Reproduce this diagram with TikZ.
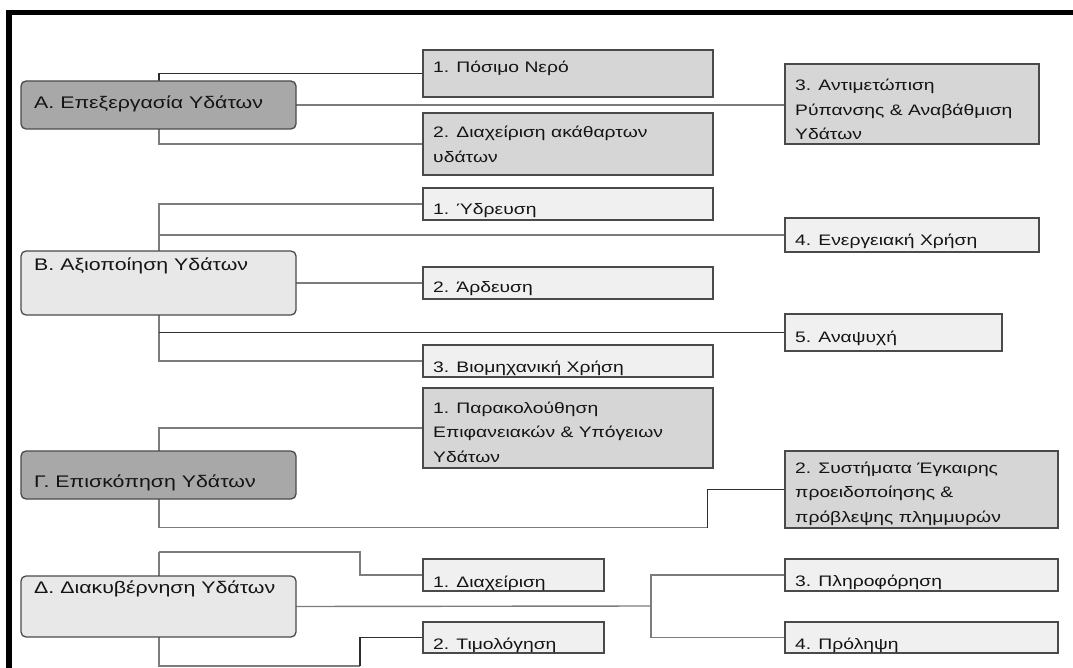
\documentclass[tikz,border=0pt]{standalone}
\usepackage{fontspec}
\setmainfont{Liberation Sans}[FakeStretch=1.27]
\pgfdeclarelayer{wires}
\pgfsetlayers{wires,main}
\definecolor{maindark}{HTML}{A8A8A8}
\definecolor{mainlight}{HTML}{E8E8E8}
\definecolor{subdark}{HTML}{D6D6D6}
\definecolor{sublight}{HTML}{F0F0F0}
\definecolor{edge}{HTML}{4A4A4A}
\definecolor{wire}{HTML}{7C7C7C}
\definecolor{wiredark}{HTML}{2E2E2E}
\definecolor{ink}{HTML}{141414}

% stacked text lines, baseline of the node = baseline of the first line
\newcommand\ml[1]{\vtop{\baselineskip=24.5pt\lineskiplimit=-100pt\halign{##\hfil\cr#1\crcr}}}
% box node from its corners: name, style, x1, y1, x2, y2
\newcommand\boxat[6]{\node[#2, minimum width={(#5-#3)*1pt}, minimum height={(#6-#4)*1pt}] (#1) at ({(#3+#5)/2},{(#4+#6)/2}) {};}
% text inside a box: box name, x offset, baseline offset, style, lines
\newcommand\boxtext[5]{\node[#4, anchor=base west] (#1t) at ([shift={(#2,#3)}]#1.north west) {\ml{#5}};}

\begin{document}
\begin{tikzpicture}[x=1pt, y=-1pt,
  box/.style={draw=edge, line width=1.3pt, inner sep=0pt, outer sep=0pt},
  mainbox/.style={box, rounded corners=5pt},
  mdark/.style={mainbox, fill=maindark},
  mlight/.style={mainbox, fill=mainlight},
  sdark/.style={box, fill=subdark},
  slight/.style={box, fill=sublight},
  maintxt/.style={inner sep=0pt, text=ink, font=\fontsize{16.8}{20}\selectfont},
  subtxt/.style={inner sep=0pt, text=ink, font=\fontsize{15.2}{18}\selectfont},
  wireline/.style={draw=wire, line width=1.4pt},
  wiredk/.style={draw=wiredark, line width=1.4pt},
  frame/.style={draw=black, line width=5.5pt}
]
\useasboundingbox (0,0) rectangle (1073,668);

% outer frame (left and top edges)
\coordinate (fbl) at (9,668);
\coordinate (ftl) at (9,12.5);
\coordinate (ftr) at (1073,12.5);
\draw[frame] (fbl) -- (ftl) -- (ftr);

% ---------- boxes ----------
% A
\boxat{am}{mdark}{21}{81}{296}{129}
\boxat{a1}{sdark}{423}{50}{713}{97}
\boxat{a2}{sdark}{423}{113}{713}{175}
\boxat{a3}{sdark}{785}{64}{1039}{144}
% B
\boxat{bm}{mlight}{21}{251}{296}{315}
\boxat{b1}{slight}{423}{188}{713}{220}
\boxat{b4}{slight}{785}{218}{1039}{252}
\boxat{b2}{slight}{423}{267}{713}{299}
\boxat{b5}{slight}{785}{314}{1002}{351}
\boxat{b3}{slight}{423}{345}{713}{377}
% Gamma
\boxat{gm}{mdark}{21}{451}{296}{499}
\boxat{g1}{sdark}{423}{388}{713}{468}
\boxat{g2}{sdark}{785}{451}{1058}{528}
% Delta
\boxat{dm}{mlight}{21}{576}{296}{637}
\boxat{d1}{slight}{423}{559}{604}{591}
\boxat{d2}{slight}{423}{622}{604}{653}
\boxat{d3}{slight}{785}{559}{1058}{591}
\boxat{d4}{slight}{785}{622}{1058}{653}

% ---------- texts ----------
\boxtext{am}{13}{28}{maintxt}{Α. Επεξεργασία Υδάτων}
\boxtext{bm}{13}{19}{maintxt}{Β. Αξιοποίηση Υδάτων}
\boxtext{gm}{13}{36}{maintxt}{Γ. Επισκόπηση Υδάτων}
\boxtext{dm}{13}{17}{maintxt}{Δ. Διακυβέρνηση Υδάτων}

\boxtext{a1}{10}{23}{subtxt}{1. Πόσιμο Νερό}
\boxtext{a2}{10}{25}{subtxt}{2. Διαχείριση ακάθαρτων\cr υδάτων}
\boxtext{a3}{10}{27}{subtxt}{3. Αντιμετώπιση\cr Ρύπανσης \& Αναβάθμιση\cr Υδάτων}
\boxtext{b1}{10}{27}{subtxt}{1. Ύδρευση}
\boxtext{b4}{10}{28}{subtxt}{4. Ενεργειακή Χρήση}
\boxtext{b2}{10}{26}{subtxt}{2. Άρδευση}
\boxtext{b5}{10}{28}{subtxt}{5. Αναψυχή}
\boxtext{b3}{10}{27}{subtxt}{3. Βιομηχανική Χρήση}
\boxtext{g1}{10}{25}{subtxt}{1. Παρακολούθηση\cr Επιφανειακών \& Υπόγειων\cr Υδάτων}
\boxtext{g2}{10}{22}{subtxt}{2. Συστήματα Έγκαιρης\cr προειδοποίησης \&\cr πρόβλεψης πλημμυρών}
\boxtext{d1}{10}{28}{subtxt}{1. Διαχείριση}
\boxtext{d2}{10}{27}{subtxt}{2. Τιμολόγηση}
\boxtext{d3}{10}{27}{subtxt}{3. Πληροφόρηση}
\boxtext{d4}{10}{27}{subtxt}{4. Πρόληψη}

% ---------- connectors (under the boxes) ----------
\coordinate (atr) at (159,110);
\coordinate (btr) at (159,280);
\coordinate (gtr) at (159,480);
\coordinate (gbend) at (707.6,527.6);
\coordinate (dtop) at (159,552);
\coordinate (dbot) at (159,666);
\coordinate (d1bend) at (360,552);
\coordinate (d2bend) at (360,666);
\coordinate (dmid) at (651,606);

\begin{pgfonlayer}{wires}
  % A
  \draw[wiredk] (a1.west) -| (atr);
  \draw[wireline] (atr) |- (a2.west);
  \draw[wireline] (am.east) -- (am.east -| a3.west);
  % B
  \draw[wireline] (b1.west) -| (btr) |- (b3.west);
  \draw[wireline] (btr |- b4.west) -- (b4.west);
  \draw[wireline] (bm.east) -- (b2.west);
  \draw[wiredk] (btr |- b5.west) -- (b5.west);
  % Gamma
  \draw[wireline] (g1.west) -| (gtr) |- (gbend);
  \draw[wiredk] (gbend) |- (g2.west);
  % Delta
  \draw[wireline] (dtop) -- (d1bend) |- (d1.west);
  \draw[wireline] (dtop) -- (dbot) -- (d2bend);
  \draw[wiredk] (d2bend) |- (d2.west);
  \draw[wireline] (dm.east) -- (dmid);
  \draw[wireline] (d3.west) -| (dmid) |- (d4.west);
\end{pgfonlayer}
\end{tikzpicture}
\end{document}
